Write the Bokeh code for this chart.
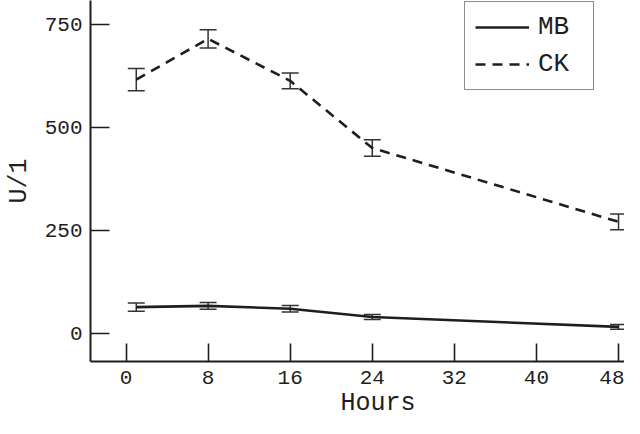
from bokeh.plotting import figure
from bokeh.models import (ColumnDataSource, Whisker, TeeHead, FixedTicker,
                          Legend, LegendItem, Range1d, Title)
from bokeh.embed import file_html
from bokeh.resources import INLINE

# ---- data ----
hours = [1, 8, 16, 24, 48]
mb_mean = [64, 67, 60, 40, 16]
mb_err = [10, 8, 8, 6, 6]
ck_mean = [616, 715, 613, 450, 271]
ck_err = [27, 22, 19, 20, 19]

x_ticks = [0, 8, 16, 24, 32, 40, 48]
y_ticks = [0, 250, 500, 750]
x_title = "Hours"
y_title = "U/1"
series_names = ["MB", "CK"]

FONT = "Liberation Mono"
INK = "#1e1e1e"

mb_src = ColumnDataSource(dict(x=hours, y=mb_mean,
                               lo=[m - e for m, e in zip(mb_mean, mb_err)],
                               hi=[m + e for m, e in zip(mb_mean, mb_err)]))
ck_src = ColumnDataSource(dict(x=hours, y=ck_mean,
                               lo=[m - e for m, e in zip(ck_mean, ck_err)],
                               hi=[m + e for m, e in zip(ck_mean, ck_err)]))

p = figure(width=624, height=418, output_backend="svg", toolbar_location=None,
           x_range=Range1d(-3.46, 48.58), y_range=Range1d(-68, 808),
           min_border_left=90, min_border_right=0, min_border_top=0,
           min_border_bottom=57)

p.outline_line_color = None
p.grid.visible = False
p.background_fill_color = "white"
p.border_fill_color = "white"

for src in (mb_src, ck_src):
    w = Whisker(base="x", lower="lo", upper="hi", source=src,
                dimension="height", line_color="#333333", line_width=1.5,
                lower_head=TeeHead(size=17, line_color="#333333", line_width=1.5),
                upper_head=TeeHead(size=17, line_color="#333333", line_width=1.5))
    p.add_layout(w)

r_mb = p.line("x", "y", source=mb_src, line_color=INK, line_width=2.6)
r_ck = p.line("x", "y", source=ck_src, line_color=INK, line_width=2.6,
              line_dash="10 7")

for ax in (p.xaxis[0], p.yaxis[0]):
    ax.axis_line_color = INK
    ax.axis_line_width = 2
    ax.major_tick_line_color = INK
    ax.major_tick_line_width = 1.6
    ax.major_tick_out = 0
    ax.minor_tick_line_color = None
    ax.major_label_text_font = FONT
    ax.major_label_text_font_size = "21px"
    ax.major_label_text_color = INK
    ax.axis_label_text_font = FONT
    ax.axis_label_text_font_size = "25px"
    ax.axis_label_text_font_style = "normal"
    ax.axis_label_text_color = INK

p.xaxis[0].ticker = FixedTicker(ticks=x_ticks)
p.yaxis[0].ticker = FixedTicker(ticks=y_ticks)
p.xaxis[0].major_tick_in = 18
p.yaxis[0].major_tick_in = 19
p.yaxis[0].axis_label = y_title
p.xaxis[0].major_label_standoff = 9
p.yaxis[0].major_label_standoff = 8
p.yaxis[0].axis_label_standoff = 8

# x-axis title, offset to sit where the reference has it
p.add_layout(Title(text=x_title, align="left", offset=250, standoff=0,
                   text_font=FONT, text_font_size="25px",
                   text_font_style="normal", text_color=INK), "below")

legend = Legend(items=[LegendItem(label=series_names[0], renderers=[r_mb]),
                       LegendItem(label=series_names[1], renderers=[r_ck])],
                location=(374, 271))
legend.label_text_font = FONT
legend.label_text_font_size = "26px"
legend.label_text_color = INK
legend.glyph_width = 54
legend.glyph_height = 28
legend.label_standoff = 9
legend.label_width = 45
legend.label_height = 28
legend.padding = 10
legend.spacing = 7
legend.margin = 0
legend.border_line_color = INK
legend.border_line_width = 1.6
legend.background_fill_alpha = 1.0
p.add_layout(legend, "center")

open("out.html", "w").write(file_html(p, INLINE))
